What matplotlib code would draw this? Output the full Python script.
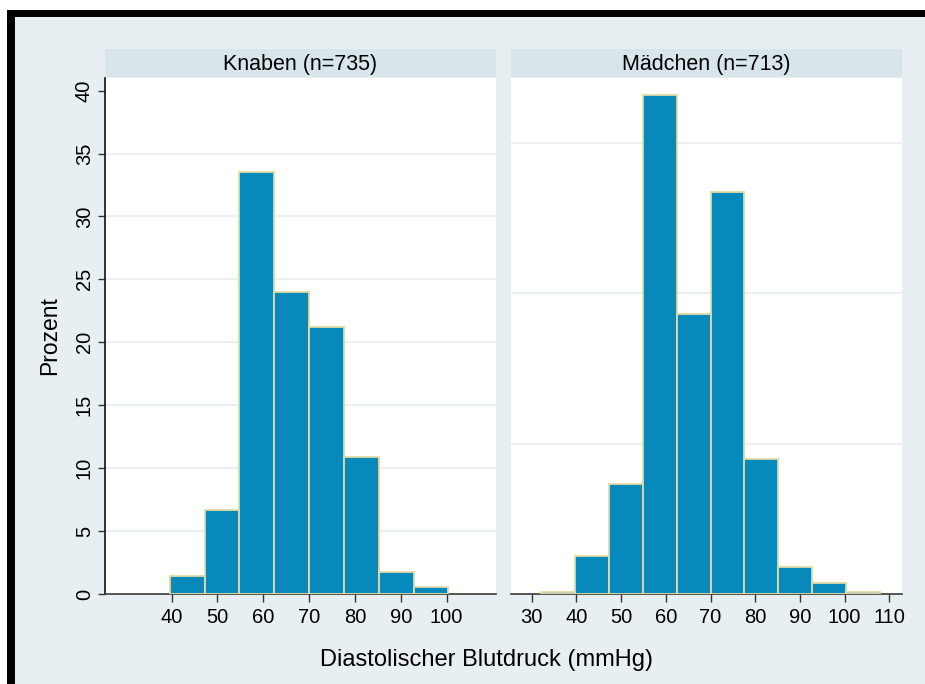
import numpy as np
import matplotlib
matplotlib.use('Agg')
import matplotlib.pyplot as plt
from matplotlib.patches import Rectangle

plt.rcParams['font.family'] = ['Liberation Sans', 'DejaVu Sans']

# histogram bins (mmHg), shared by both panels
bin_left = [32.0, 39.6, 47.2, 54.8, 62.4, 70.0, 77.6, 85.2, 92.8, 100.4]
bin_width = 7.6

# percent per bin
knaben_pct = [0.0, 1.4, 6.7, 33.5, 24.0, 21.25, 10.9, 1.77, 0.58, 0.0]
maedchen_pct = [0.14, 2.5, 7.3, 33.2, 18.6, 26.7, 9.0, 1.8, 0.7, 0.14]

titles = ['Knaben (n=735)', 'Mädchen (n=713)']
xticks_left = [40, 50, 60, 70, 80, 90, 100]
xticks_right = [30, 40, 50, 60, 70, 80, 90, 100, 110]
yticks_left = [0, 5, 10, 15, 20, 25, 30, 35, 40]
grid_left = [5, 10, 15, 20, 25, 30, 35]
grid_right = [10, 20, 30]

BG = '#e8eff2'
STRIP = '#d8e5eb'
BAR = '#0889bc'
EDGE = '#e3d9a6'
GRID = '#e9f1f3'

W, H = 925, 684
fig = plt.figure(figsize=(W / 100, H / 100), dpi=100)
fig.patch.set_facecolor(BG)


def px_rect(x0, y0, x1, y1, color):
    # figure-level rectangle from a pixel box (top-left origin)
    fig.add_artist(Rectangle((x0 / W, 1 - y1 / H), (x1 - x0) / W,
                             (y1 - y0) / H, transform=fig.transFigure,
                             facecolor=color, lw=0, zorder=-5))


def px_axes(x0, y0, x1, y1, **kw):
    # pixel box (top-left origin) -> figure axes
    return fig.add_axes([x0 / W, 1 - y1 / H, (x1 - x0) / W, (y1 - y0) / H], **kw)


# white margin and black frame on top and left only
px_rect(0, 0, W, 10, 'white')
px_rect(0, 0, 7, H, 'white')
px_rect(7, 10, W, 17, 'black')
px_rect(7, 10, 15, H, 'black')


def panel(x0, x1, values, xlim, ylim, xticks, grid, title, left_axis):
    ax = px_axes(x0, 78, x1, 594)
    ax.set_facecolor('white')
    for xl, v in zip(bin_left, values):
        if v > 0:
            ax.bar(xl, v, width=bin_width, align='edge', color=BAR,
                   edgecolor=EDGE, linewidth=1.3, zorder=3)
    for g in grid:
        ax.axhline(g, color=GRID, lw=1.5, zorder=1)
    ax.set_xlim(*xlim)
    ax.set_ylim(*ylim)
    ax.set_xticks(xticks)
    ax.tick_params(axis='x', length=6, width=1, color='#333333',
                   labelsize=14.5, pad=4)
    for s in ['top', 'right']:
        ax.spines[s].set_visible(False)
    ax.spines['bottom'].set_color('#3a3a3a')
    ax.spines['bottom'].set_linewidth(1.2)
    if left_axis:
        ax.set_yticks(yticks_left)
        ax.set_yticklabels([str(t) for t in yticks_left], rotation=90,
                           va='center')
        ax.tick_params(axis='y', length=5, width=1, color='#333333',
                       labelsize=14.5, pad=3)
        ax.spines['left'].set_color('#111111')
        ax.spines['left'].set_linewidth(1.2)
        ax.set_ylabel('Prozent', fontsize=16.5, labelpad=10)
    else:
        ax.spines['left'].set_visible(False)
        ax.set_yticks([])
    st = px_axes(x0, 49, x1, 77)
    st.set_facecolor(STRIP)
    st.set_xticks([])
    st.set_yticks([])
    for s in st.spines.values():
        s.set_visible(False)
    st.text(0.5, 0.45, title, ha='center', va='center', fontsize=15.5,
            transform=st.transAxes)
    return ax


panel(105, 496, knaben_pct, (25.47, 110.78), (0, 41.0), xticks_left,
      grid_left, titles[0], True)
panel(511, 902, maedchen_pct, (25.36, 112.84), (0, 34.3), xticks_right,
      grid_right, titles[1], False)

fig.text(487 / W, 1 - 660 / H, 'Diastolischer Blutdruck (mmHg)',
         ha='center', va='center', fontsize=17)

fig.savefig('out.png', dpi=100, facecolor=fig.get_facecolor())
